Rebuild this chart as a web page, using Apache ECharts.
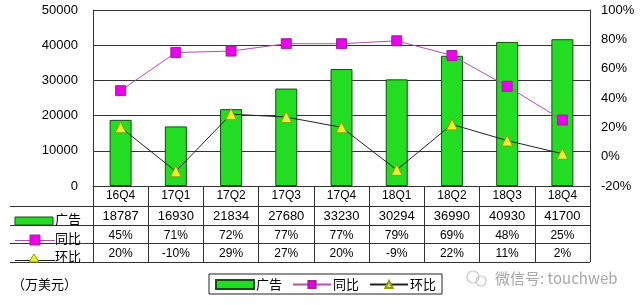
<!DOCTYPE html>
<html>
<head>
<meta charset="utf-8">
<script src="https://cdn.jsdelivr.net/npm/echarts@6/dist/echarts.min.js"></script>
<style>html,body{margin:0;padding:0;background:#fff;}#c{width:640px;height:305px;}</style>
</head>
<body>
<div id="c"></div>
<script>
var categories = ['16Q4','17Q1','17Q2','17Q3','17Q4','18Q1','18Q2','18Q3','18Q4'];
var adValues = [18787,16930,21834,27680,33230,30294,36990,40930,41700];
var yoyValues = [45,71,72,77,77,79,69,48,25];
var qoqValues = [20,-10,29,27,20,-9,22,11,2];
var leftTicks = [0,10000,20000,30000,40000,50000];
var rightTicks = [-20,0,20,40,60,80,100];

var NUM_FONT = "'Liberation Sans', Arial, sans-serif";
var CJK_FONT = "'Noto Sans CJK SC', sans-serif";
var GL = 93, GR = 590, GT = 10, GB = 186;
var rowLines = [206, 225, 243, 262];

var chart = echarts.init(document.getElementById('c'), null, {renderer: 'canvas'});

var graphics = [];
rowLines.forEach(function (y) {
  graphics.push({type: 'line', shape: {x1: 10, y1: y + 0.5, x2: GR, y2: y + 0.5}, style: {stroke: '#333', lineWidth: 1}, silent: true});
});
// row labels
graphics.push({type: 'rect', shape: {x: 15, y: 217, width: 38, height: 8}, style: {fill: '#22dd22', stroke: '#1a4a1a', lineWidth: 1}});
graphics.push({type: 'text', x: 55, y: 219, style: {text: '广告', font: '13px ' + CJK_FONT, fill: '#000', verticalAlign: 'middle'}});
graphics.push({type: 'line', shape: {x1: 15, y1: 240.5, x2: 55, y2: 240.5}, style: {stroke: '#b050b0', lineWidth: 1}});
graphics.push({type: 'rect', shape: {x: 30, y: 235, width: 10, height: 10}, style: {fill: '#ee00ee', stroke: '#a020a0', lineWidth: 1}});
graphics.push({type: 'text', x: 55, y: 238, style: {text: '同比', font: '13px ' + CJK_FONT, fill: '#000', verticalAlign: 'middle'}});
graphics.push({type: 'line', shape: {x1: 15, y1: 260.5, x2: 55, y2: 260.5}, style: {stroke: '#222', lineWidth: 1}});
graphics.push({type: 'polygon', shape: {points: [[34, 254], [39, 262], [29, 262]]}, style: {fill: '#e8f030', stroke: '#8a9a10', lineWidth: 1}});
graphics.push({type: 'text', x: 55, y: 256, style: {text: '环比', font: '13px ' + CJK_FONT, fill: '#000', verticalAlign: 'middle'}});
// unit
graphics.push({type: 'text', x: 12, y: 284, style: {text: '（万美元）', font: '13px ' + CJK_FONT, fill: '#000', verticalAlign: 'middle'}});
// watermark
graphics.push({type: 'circle', shape: {cx: 473, cy: 277, r: 6}, style: {fill: 'none', stroke: '#c8c8c8', lineWidth: 1.2}});
graphics.push({type: 'circle', shape: {cx: 481, cy: 281, r: 5}, style: {fill: 'none', stroke: '#c8c8c8', lineWidth: 1.2}});
graphics.push({type: 'text', x: 495, y: 278, style: {text: '微信号: touchweb', font: '15px ' + CJK_FONT, fill: '#a8a8a8', verticalAlign: 'middle'}});

var option = {
  animation: false,
  backgroundColor: '#fff',
  grid: {left: GL, right: 640 - GR, top: GT, bottom: 305 - GB},
  legend: {
    left: 209, top: 274,
    padding: [4, 6, 3, 6],
    borderColor: '#222', borderWidth: 1,
    itemWidth: 38, itemHeight: 9, itemGap: 10,
    textStyle: {fontFamily: CJK_FONT, fontSize: 13, color: '#000', padding: [0, 0, 0, -3]},
    data: [{name: '广告', icon: 'rect'}, {name: '同比'}, {name: '环比'}]
  },
  xAxis: {
    type: 'category',
    data: categories,
    boundaryGap: true,
    axisLine: {show: true, lineStyle: {color: '#333', width: 1}},
    axisTick: {show: true, length: 76, inside: false, lineStyle: {color: '#333', width: 1}},
    axisLabel: {
      interval: 0, margin: 0,
      formatter: function (v, i) {
        return '{c|' + v + '}\n{v|' + adValues[i] + '}\n{p|' + yoyValues[i] + '%}\n{p|' + qoqValues[i] + '%}';
      },
      rich: {
        c: {fontFamily: NUM_FONT, fontSize: 12, lineHeight: 20, color: '#000'},
        v: {fontFamily: NUM_FONT, fontSize: 13, lineHeight: 20, color: '#000'},
        p: {fontFamily: NUM_FONT, fontSize: 12, lineHeight: 18.5, color: '#000'}
      }
    }
  },
  yAxis: [{
    type: 'value', min: leftTicks[0], max: leftTicks[leftTicks.length - 1], interval: 10000,
    axisLine: {show: true, lineStyle: {color: '#333'}},
    axisTick: {show: false},
    splitLine: {show: true, lineStyle: {color: '#333', width: 1}},
    axisLabel: {margin: 15, fontFamily: NUM_FONT, fontSize: 13, color: '#000', formatter: function (v) { return String(v); }}
  }, {
    type: 'value', min: rightTicks[0], max: rightTicks[rightTicks.length - 1], interval: 20,
    axisLine: {show: true, lineStyle: {color: '#333'}},
    axisTick: {show: false},
    splitLine: {show: false},
    axisLabel: {margin: 11, fontFamily: NUM_FONT, fontSize: 13, color: '#000', formatter: '{value}%'}
  }],
  series: [{
    name: '广告', type: 'bar', data: adValues, barWidth: 22,
    itemStyle: {color: '#22dd22', borderColor: '#1a4a1a', borderWidth: 1}
  }, {
    name: '同比', type: 'line', yAxisIndex: 1, data: yoyValues,
    symbol: 'rect', symbolSize: 10,
    lineStyle: {color: '#b050b0', width: 1},
    itemStyle: {color: '#ee00ee', borderColor: '#a020a0', borderWidth: 1}
  }, {
    name: '环比', type: 'line', yAxisIndex: 1, data: qoqValues,
    symbol: 'triangle', symbolSize: 11,
    lineStyle: {color: '#222', width: 1},
    itemStyle: {color: '#e8f030', borderColor: '#8a9a10', borderWidth: 1}
  }],
  graphic: graphics
};
chart.setOption(option);
</script>
</body>
</html>
